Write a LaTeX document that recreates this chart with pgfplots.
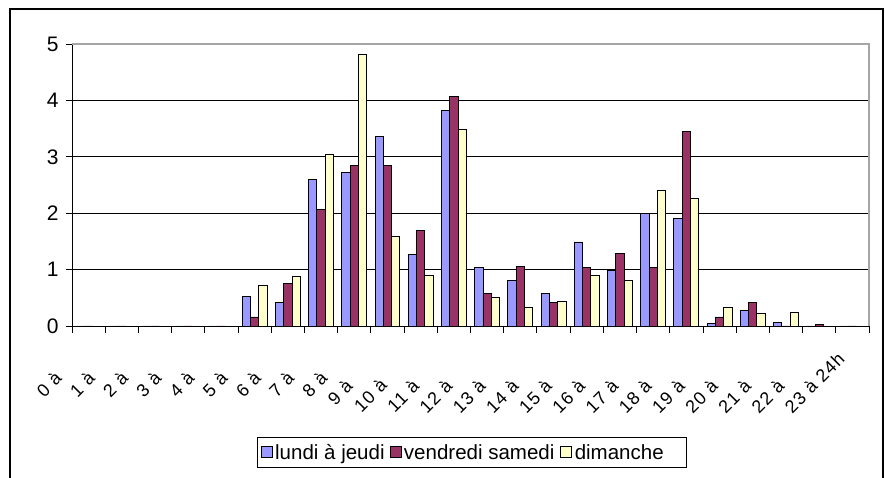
\documentclass[border=0pt]{standalone}
\usepackage{fontspec}
\setmainfont{Liberation Sans}
\newfontfamily\lblfont[LetterSpace=6]{Liberation Sans}
\usepackage{pgfplots}
\usepackage{pgfplotstable}
\pgfplotsset{compat=1.18}
\definecolor{serA}{HTML}{9999FF}
\definecolor{serB}{HTML}{993366}
\definecolor{serC}{HTML}{FFFFCC}

% heure, lundi a jeudi, vendredi samedi, dimanche
\pgfplotstableread{
h a b c
0 0 0 0
1 0 0 0
2 0 0 0
3 0 0 0
4 0 0 0
5 0.52 0.16 0.72
6 0.41 0.75 0.87
7 2.59 2.06 3.05
8 2.73 2.85 4.81
9 3.36 2.85 1.58
10 1.26 1.69 0.89
11 3.82 4.07 3.48
12 1.03 0.58 0.50
13 0.81 1.06 0.33
14 0.58 0.41 0.44
15 1.49 1.04 0.89
16 0.99 1.29 0.81
17 2.00 1.04 2.40
18 1.91 3.45 2.26
19 0.04 0.16 0.33
20 0.27 0.41 0.22
21 0.07 0 0.24
22 0 0.02 0
23 0 0 0
}\heures

% la fin du libelle "N a N+1h" n'est pas visible dans l'original
\newcommand{\xl}[2]{#1 à\phantom{\ #2h}}

\begin{document}
\begin{tikzpicture}
\useasboundingbox (0pt,0pt) rectangle (885pt,478pt);
\draw[line width=1.5pt] (10pt,-5pt) -- (10pt,469pt) -- (883pt,469pt) -- (883pt,-5pt);
\begin{axis}[
  at={(72pt,152pt)}, anchor=south west,
  scale only axis, width=797pt, height=282pt,
  ybar=0pt, bar width=8.3pt,
  xmin=-0.5, xmax=23.5, ymin=0, ymax=5,
  axis x line*=bottom, axis y line*=left,
  axis line style={black, line width=0.9pt},
  ytick={0,...,5},
  xtick={0,...,23},
  minor xtick={-0.5,0.5,...,23.5},
  xticklabels={\xl{0}{1},\xl{1}{2},\xl{2}{3},\xl{3}{4},\xl{4}{5},\xl{5}{6},\xl{6}{7},\xl{7}{8},\xl{8}{9},\xl{9}{10},\xl{10}{11},\xl{11}{12},\xl{12}{13},\xl{13}{14},\xl{14}{15},\xl{15}{16},\xl{16}{17},\xl{17}{18},\xl{18}{19},\xl{19}{20},\xl{20}{21},\xl{21}{22},\xl{22}{23},23 à 24h},
  tick align=outside,
  major tick length=6pt, minor tick length=7pt,
  major x tick style={draw=none},
  minor x tick style={black, line width=0.9pt},
  major y tick style={black, line width=0.9pt},
  ymajorgrids, grid style={black, line width=0.8pt},
  /pgf/number format/assume math mode=true,
  yticklabel style={font=\fontsize{21}{21}\selectfont, xshift=-4pt},
  xticklabel style={xshift=-16pt, yshift=-19pt, rotate=45, anchor=north east, inner sep=0pt, font=\lblfont\fontsize{18}{18}\selectfont},
  legend style={at={(0.502,-0.449)}, anchor=center, legend columns=3,
    draw=black, line width=0.8pt, inner xsep=3pt, inner ysep=4pt,
    font=\fontsize{20.5}{20.5}\selectfont,
    nodes={inner sep=2.5pt},
    /tikz/every even column/.append style={column sep=2pt}},
  legend image code/.code={\draw[#1, line width=0.8pt] (0pt,-5pt) rectangle (11pt,6pt);},
  clip=false,
]
\addplot[fill=serA, draw=black, line width=0.9pt] table[x=h, y=a] {\heures};
\addplot[fill=serB, draw=black, line width=0.9pt] table[x=h, y=b] {\heures};
\addplot[fill=serC, draw=black, line width=0.9pt] table[x=h, y=c] {\heures};
\draw[gray!70, line width=1.2pt] (axis cs:-0.5,5) -- (axis cs:23.5,5) -- (axis cs:23.5,0);
\legend{\makebox[110pt][l]{lundi à jeudi}, \makebox[152pt][l]{vendredi samedi}, \makebox[106pt][l]{dimanche}}
\end{axis}
\end{tikzpicture}
\end{document}
